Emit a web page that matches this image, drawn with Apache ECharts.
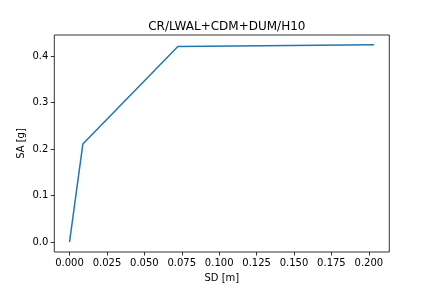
<!DOCTYPE html>
<html>
<head>
<meta charset="utf-8">
<script src="https://cdn.jsdelivr.net/npm/echarts@6/dist/echarts.min.js"></script>
<style>html,body{margin:0;padding:0;background:#fff;}#c{width:432px;height:288px;}</style>
</head>
<body>
<div id="c"></div>
<script>
var titleText = "CR/LWAL+CDM+DUM/H10";
var xName = "SD [m]";
var yName = "SA [g]";
var sdValues = [0.0, 0.0089, 0.0724, 0.2035];
var saValues = [0.0, 0.211, 0.421, 0.4245];
var xTicks = [0, 0.025, 0.05, 0.075, 0.1, 0.125, 0.15, 0.175, 0.2];
var yTicks = [0, 0.1, 0.2, 0.3, 0.4];

var xMaxData = Math.max.apply(null, sdValues), xMinData = Math.min.apply(null, sdValues);
var yMaxData = Math.max.apply(null, saValues), yMinData = Math.min.apply(null, saValues);
var xm = (xMaxData - xMinData) * 0.05, ym = (yMaxData - yMinData) * 0.05;

var font = "DejaVu Sans";
var chart = echarts.init(document.getElementById('c'), null, {renderer: 'canvas'});
chart.setOption({
  animation: false,
  backgroundColor: '#ffffff',
  title: {
    text: titleText, left: 221.8, top: 16, textAlign: 'center',
    textStyle: {fontFamily: font, fontSize: 12, fontWeight: 'normal', color: '#000'}
  },
  grid: {left: 54.3, top: 35, right: 42.7, bottom: 36, show: true, borderColor: '#000', borderWidth: 0.8, backgroundColor: 'transparent'},
  xAxis: {
    type: 'value', min: xMinData - xm, max: xMaxData + xm,
    name: xName, nameLocation: 'middle', nameGap: 21, nameMoveOverlap: false,
    nameTextStyle: {fontFamily: font, fontSize: 10, color: '#000'},
    axisLine: {show: false, onZero: false},
    splitLine: {show: false},
    axisTick: {show: true, inside: false, length: 3.5, customValues: xTicks, lineStyle: {color: '#000', width: 0.8}},
    axisLabel: {customValues: xTicks, margin: 6, fontFamily: font, fontSize: 10, color: '#000',
      formatter: function (v) { return v.toFixed(3); }}
  },
  yAxis: {
    type: 'value', min: yMinData - ym, max: yMaxData + ym,
    name: yName, nameLocation: 'middle', nameGap: 28, nameMoveOverlap: false,
    nameTextStyle: {fontFamily: font, fontSize: 10, color: '#000'},
    axisLine: {show: false, onZero: false},
    splitLine: {show: false},
    axisTick: {show: true, inside: false, length: 3.5, customValues: yTicks, lineStyle: {color: '#000', width: 0.8}},
    axisLabel: {customValues: yTicks, margin: 6, fontFamily: font, fontSize: 10, color: '#000',
      formatter: function (v) { return v.toFixed(1); }}
  },
  series: [{
    type: 'line',
    data: sdValues.map(function (x, i) { return [x, saValues[i]]; }),
    showSymbol: false, symbol: 'none',
    lineStyle: {color: '#1f77b4', width: 1.5},
    itemStyle: {color: '#1f77b4'}
  }]
});
</script>
</body>
</html>
